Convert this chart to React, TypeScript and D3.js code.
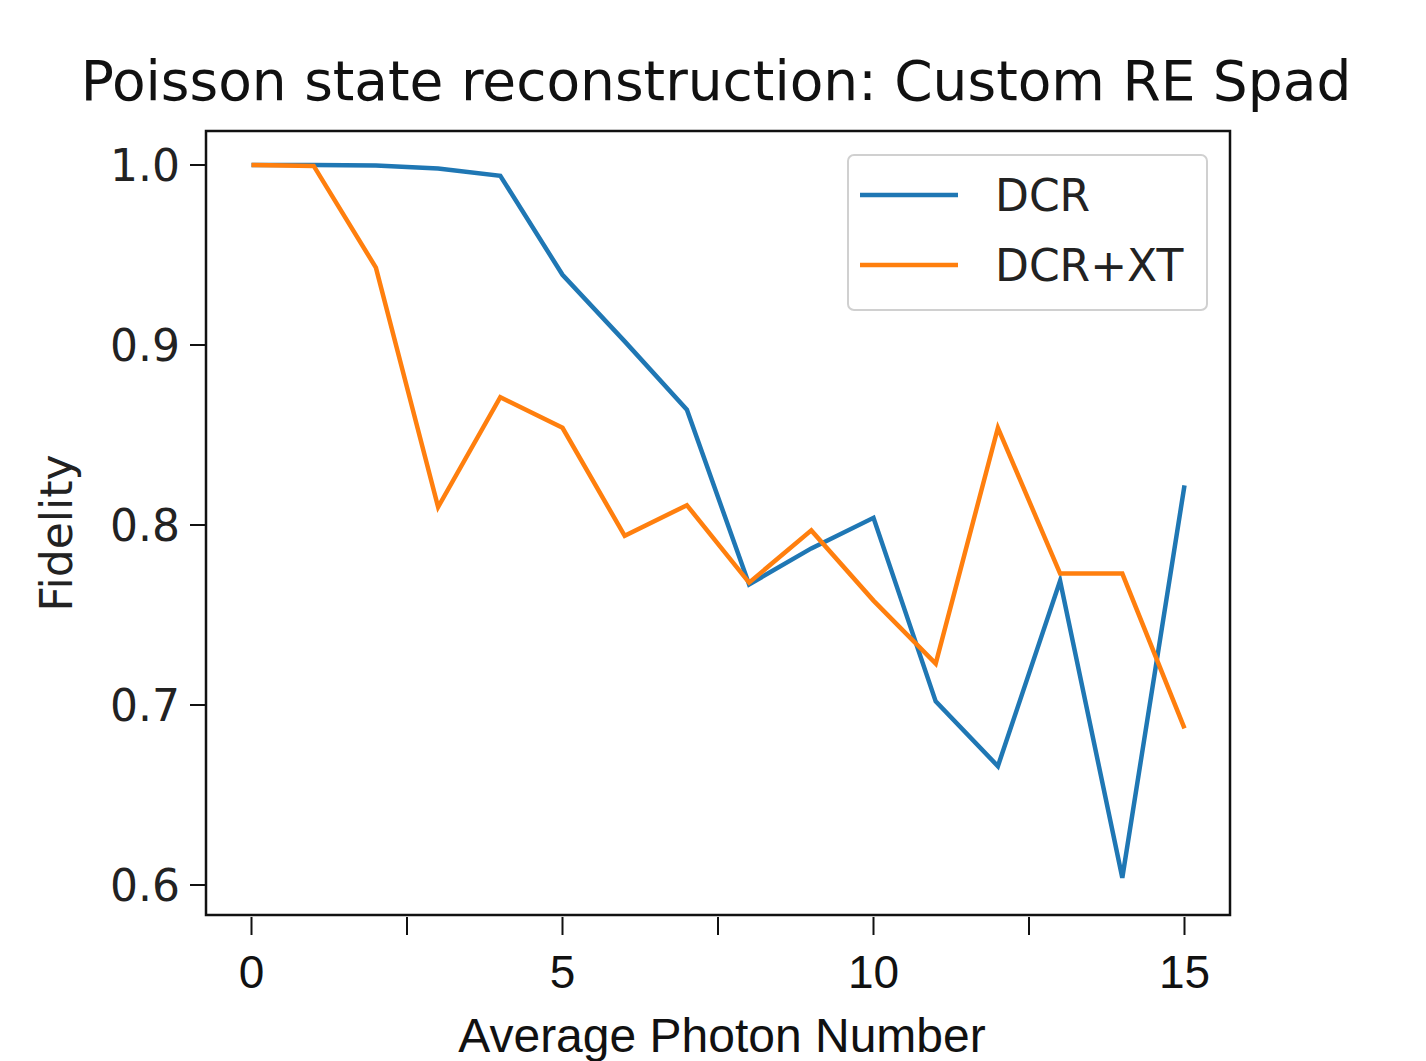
import React from "react";
import * as d3 from "d3";

const xValues = [0, 1, 2, 3, 4, 5, 6, 7, 8, 9, 10, 11, 12, 13, 14, 15];
const dcr = [1.0, 1.0, 0.9997, 0.998, 0.994, 0.939, 0.902, 0.864, 0.767, 0.787, 0.804, 0.702, 0.666, 0.769, 0.604, 0.822];
const dcrXt = [1.0, 0.9995, 0.943, 0.81, 0.871, 0.854, 0.794, 0.811, 0.768, 0.797, 0.758, 0.723, 0.854, 0.773, 0.773, 0.687];
const xTicks = [0, 2.5, 5, 7.5, 10, 12.5, 15];
const xTickLabels = [0, 5, 10, 15];
const yTicks = [0.6, 0.7, 0.8, 0.9, 1.0];
const seriesNames = ["DCR", "DCR+XT"];
const seriesColors = ["#1f77b4", "#ff7f0e"];

const W = 1426;
const H = 1061;
const frame = { left: 206, right: 1230, top: 131, bottom: 915 };

export default function App() {
  const x = d3.scaleLinear().domain([0, 15]).range([251.5, 1184.5]);
  const y = d3.scaleLinear().domain([0.6, 1.0]).range([885, 165]);
  const line = d3
    .line<number>()
    .x((_, i) => x(xValues[i]))
    .y((d) => y(d));
  const series = [dcr, dcrXt];
  const dejavu = "DejaVu Sans, sans-serif";
  const arial = "Liberation Sans, Arial, sans-serif";

  return (
    <svg width={W} height={H} style={{ position: "absolute", left: 0, top: 0, background: "#fff" }}>
      <rect x={0} y={0} width={W} height={H} fill="#fff" />
      <text x={716} y={100} textAnchor="middle" fontFamily={dejavu} fontSize={55} fill="#111">
        Poisson state reconstruction: Custom RE Spad
      </text>
      <g>
        {series.map((s, i) => (
          <path key={i} d={line(s) || ""} fill="none" stroke={seriesColors[i]} strokeWidth={4.5} strokeLinejoin="miter" />
        ))}
      </g>
      <rect
        x={frame.left}
        y={frame.top}
        width={frame.right - frame.left}
        height={frame.bottom - frame.top}
        fill="none"
        stroke="#111"
        strokeWidth={2.5}
      />
      {yTicks.map((t) => (
        <g key={t}>
          <line x1={frame.left - 16} x2={frame.left} y1={y(t)} y2={y(t)} stroke="#111" strokeWidth={2} />
          <text x={frame.left - 26} y={y(t)} dy="0.36em" textAnchor="end" fontFamily={dejavu} fontSize={44} fill="#222">
            {t.toFixed(1)}
          </text>
        </g>
      ))}
      {xTicks.map((t) => (
        <line key={t} x1={x(t)} x2={x(t)} y1={frame.bottom + 2} y2={frame.bottom + 20} stroke="#111" strokeWidth={2} />
      ))}
      {xTickLabels.map((t) => (
        <text key={t} x={x(t)} y={988} textAnchor="middle" fontFamily={arial} fontSize={46} fill="#111">
          {t}
        </text>
      ))}
      <text x={722} y={1052} textAnchor="middle" fontFamily={arial} fontSize={48} fill="#111">
        Average Photon Number
      </text>
      <text
        transform={`translate(72,533) rotate(-90)`}
        textAnchor="middle"
        fontFamily={dejavu}
        fontSize={44}
        fill="#222"
      >
        Fidelity
      </text>
      <g>
        <rect x={848} y={155} width={359} height={155} rx={6} fill="#fff" stroke="#d0d0d0" strokeWidth={2} />
        {seriesNames.map((n, i) => (
          <g key={n}>
            <line x1={860} x2={958} y1={195 + i * 70} y2={195 + i * 70} stroke={seriesColors[i]} strokeWidth={4.5} />
            <text x={995} y={195 + i * 70} dy="0.36em" fontFamily={dejavu} fontSize={44} fill="#222">
              {n}
            </text>
          </g>
        ))}
      </g>
    </svg>
  );
}
